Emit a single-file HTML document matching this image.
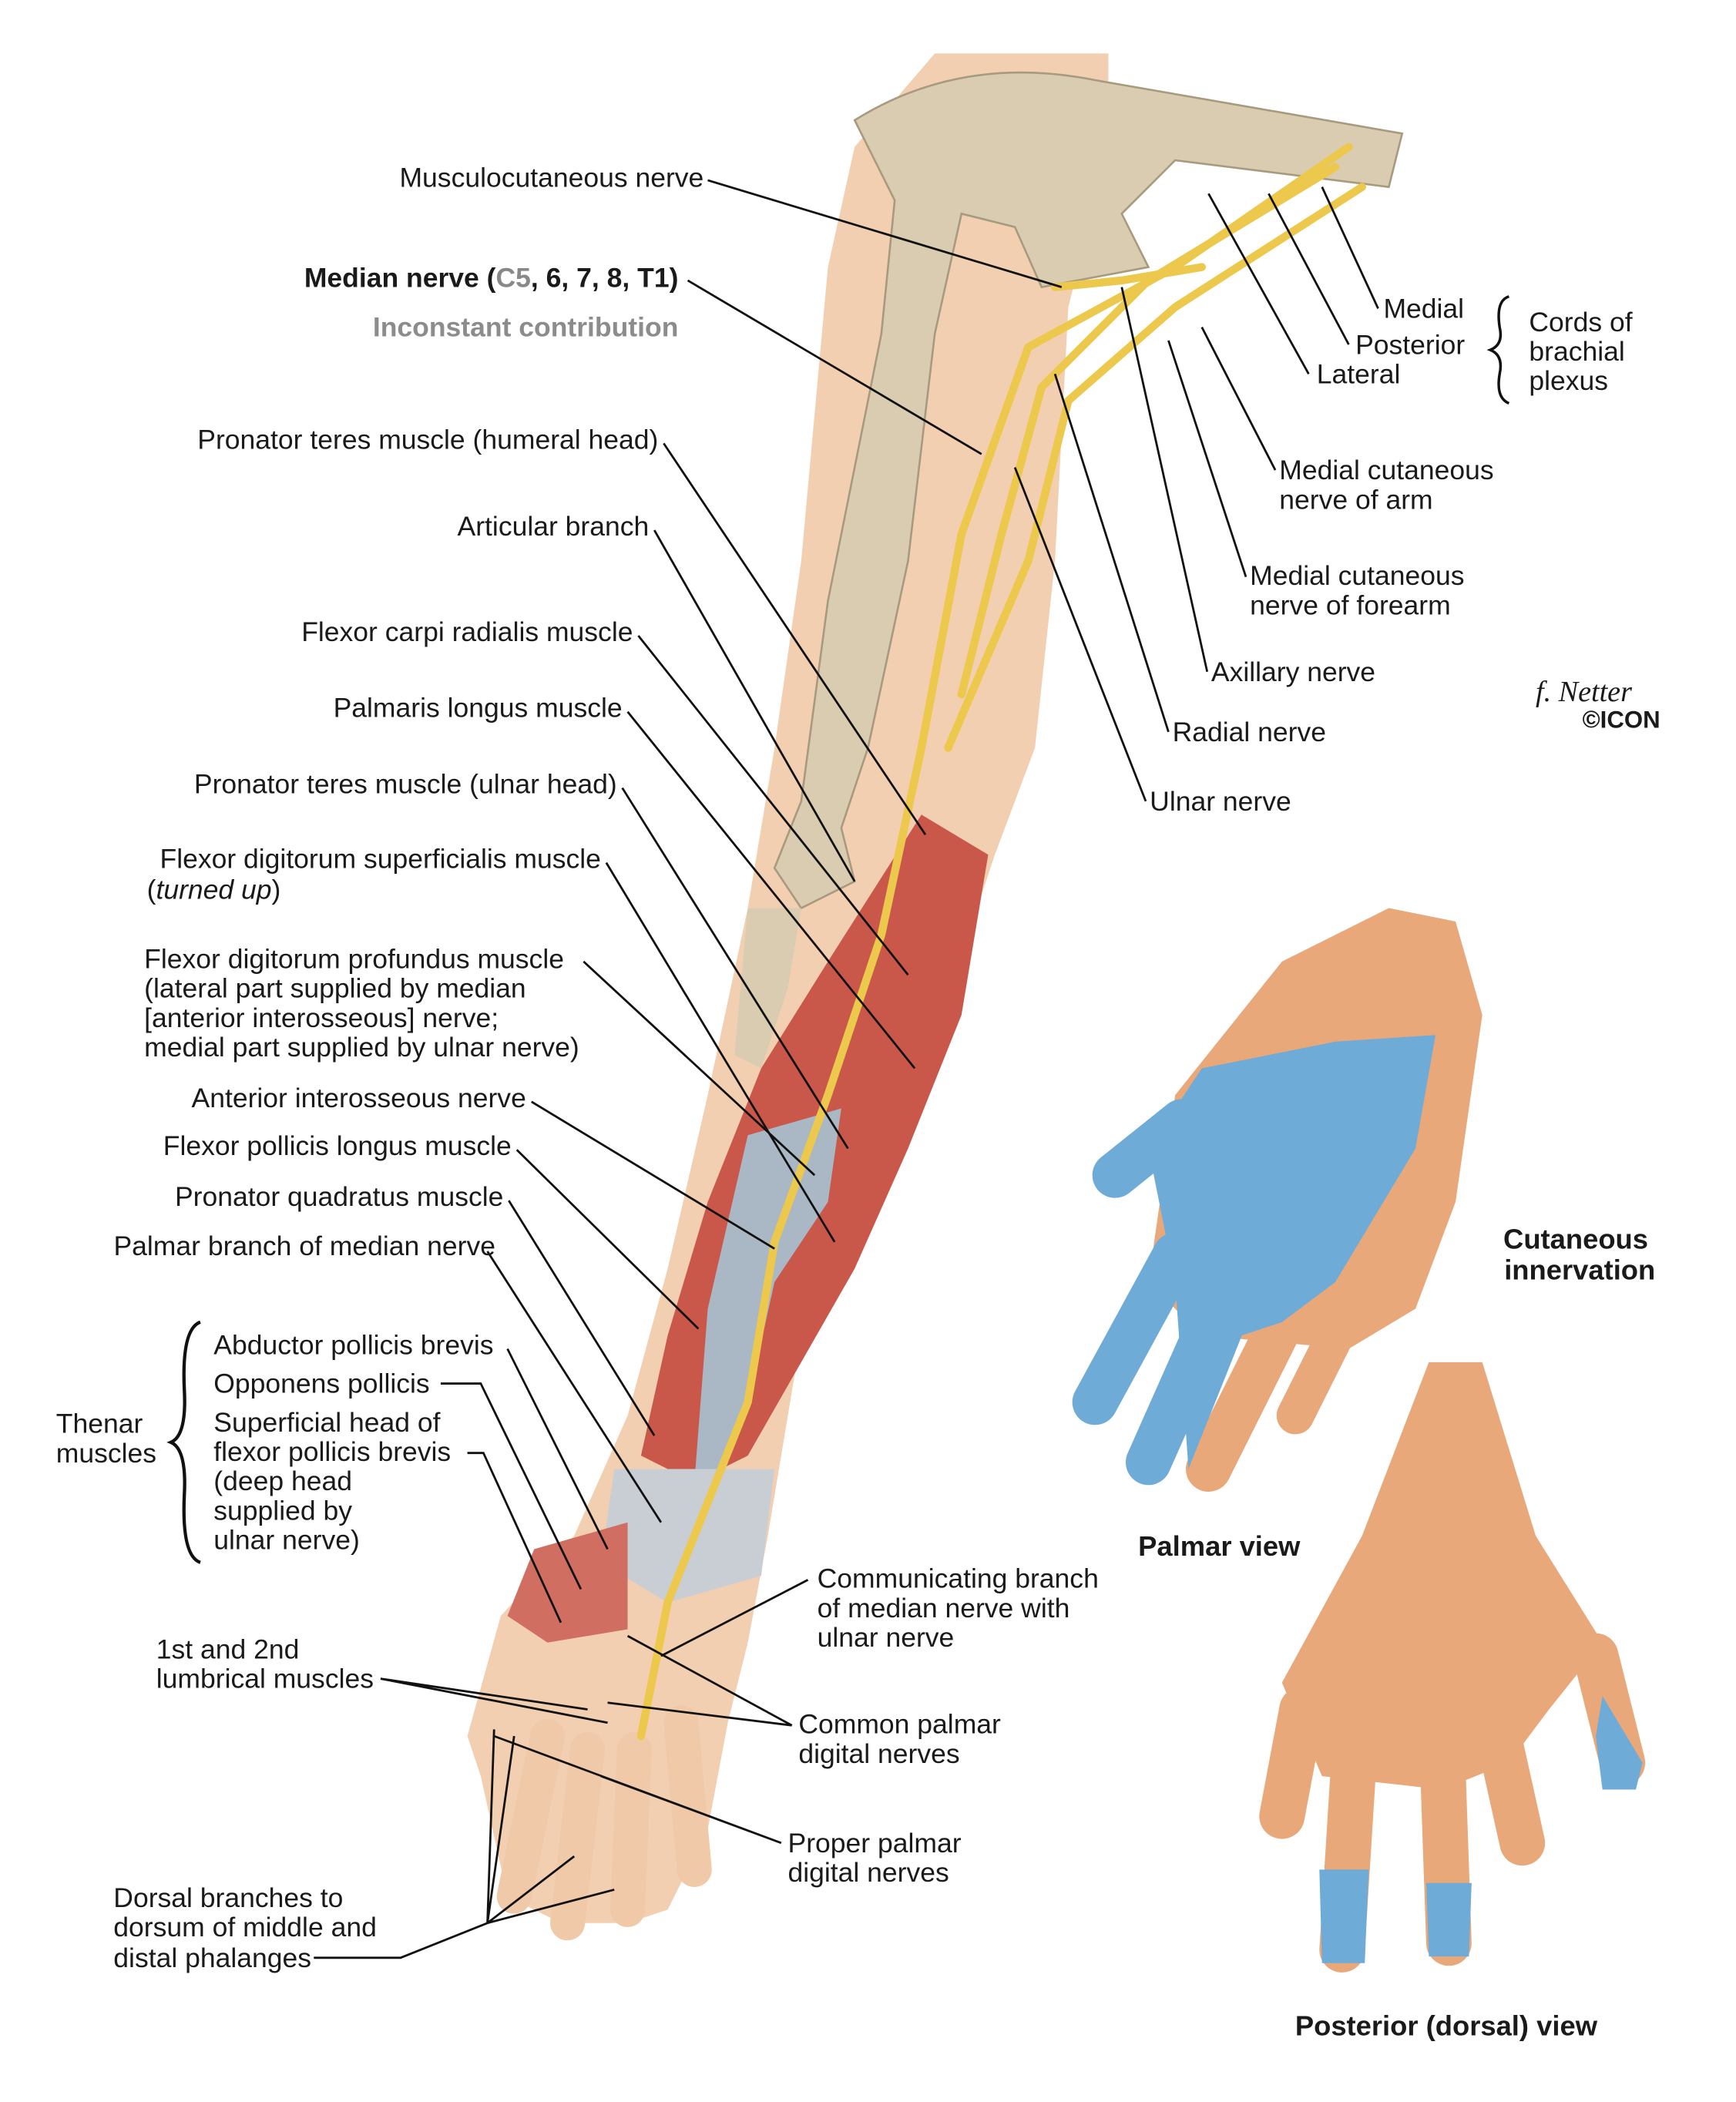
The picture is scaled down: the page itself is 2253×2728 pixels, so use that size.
<!DOCTYPE html>
<html><head><meta charset="utf-8"><style>
html,body{margin:0;padding:0;background:#fff}
svg{display:block}
text{font-family:"Liberation Sans",sans-serif;font-size:20.5px;fill:#1a1a1a}
.b{font-weight:bold}
</style></head><body>
<svg width="2253" height="2728" viewBox="0 0 1300 1574" preserveAspectRatio="none" xmlns="http://www.w3.org/2000/svg">
<!-- arm skin -->
<path d="M700 40 L830 40 L830 110 L800 230 L790 420 L775 560 L745 640 L705 760 L650 880 L600 1000 L575 1150 L560 1230 L545 1290 L530 1370 L500 1430 L470 1440 L420 1440 L380 1420 L360 1330 L350 1300 L375 1210 L430 1150 L470 1060 L500 950 L530 820 L560 680 L580 560 L600 420 L620 200 L640 110 Z" fill="#f3cfb2"/>
<g stroke="#f0c9a9" stroke-width="26" stroke-linecap="round" fill="none">
<path d="M410 1300 L385 1420"/><path d="M440 1310 L425 1440"/><path d="M475 1310 L470 1430"/><path d="M510 1290 L520 1400"/>
</g>
<!-- bones -->
<path d="M640 90 Q720 40 820 60 L1050 100 L1040 140 L880 120 L840 160 L860 200 L780 215 L760 170 L720 160 L700 250 L680 420 L650 560 L630 620 L640 660 L600 680 L580 650 L600 600 L620 450 L660 250 L670 150 Z" fill="#d9ccb1" stroke="#a89a7e" stroke-width="1.5"/>
<path d="M560 680 L600 680 L590 740 L570 800 L550 790 Z" fill="#d9ccb1"/>
<!-- forearm muscles -->
<path d="M690 610 L740 640 L720 760 L680 860 L640 950 L600 1020 L560 1090 L520 1110 L480 1090 L500 1000 L530 900 L570 800 L620 720 Z" fill="#c9584b"/>
<path d="M560 850 L630 830 L620 900 L580 960 L560 1050 L540 1110 L520 1110 L530 980 Z" fill="#a9b8c4"/>
<!-- wrist/hand -->
<path d="M460 1100 L580 1100 L570 1180 L500 1200 L450 1170 Z" fill="#c9ced4"/>
<path d="M400 1160 L470 1140 L470 1220 L410 1230 L380 1210 Z" fill="#d06e62"/>
<!-- nerves -->
<g stroke="#ecc84c" stroke-width="6" fill="none" stroke-linecap="round">
<path d="M1010 110 L880 200 L770 260 L720 400 L690 560 L660 700 L620 820 L580 930 L560 1050 L500 1200 L480 1300"/>
<path d="M1000 125 L860 210 L780 290 L750 400 L720 520"/>
<path d="M1020 140 L880 230 L800 300 L770 420 L710 560"/>
<path d="M790 215 L840 210 L900 200"/>
</g>
<!-- palmar hand -->
<path d="M1040 680 L1090 690 L1110 760 L1090 900 L1060 980 L1010 1010 L900 1000 L860 960 L880 820 L960 720 Z" fill="#e9a879"/>
<g stroke-linecap="round" fill="none" stroke-width="34">
<path d="M885 840 L835 880" stroke="#6fabd7"/>
<path d="M880 940 L820 1050" stroke="#6fabd7"/>
<path d="M920 960 L860 1095" stroke="#6fabd7"/>
<path d="M960 990 L905 1100" stroke="#e9a879"/>
<path d="M1005 990 L970 1060" stroke="#e9a879" stroke-width="28"/>
</g>
<path d="M1075 775 L1060 860 L1000 960 L960 990 L930 1000 L890 1100 L880 960 L860 860 L900 800 L1000 780 Z" fill="#6fabd7"/>
<!-- dorsal hand -->
<path d="M1070 1020 L1110 1020 L1150 1150 L1200 1230 L1160 1280 L1130 1320 L1080 1340 L990 1330 L960 1260 L1020 1150 Z" fill="#e9a879"/>
<g stroke-linecap="round" fill="none" stroke-width="34" stroke="#e9a879">
<path d="M1195 1240 L1215 1320"/>
<path d="M975 1280 L960 1360"/>
<path d="M1015 1300 L1005 1460"/>
<path d="M1080 1310 L1085 1455"/>
<path d="M1120 1290 L1140 1380"/>
</g>
<path d="M1200 1270 L1230 1320 L1225 1340 L1200 1340 L1195 1300 Z" fill="#6fabd7"/>
<path d="M988 1400 L1025 1400 L1022 1470 L990 1470 Z M1068 1410 L1102 1410 L1100 1465 L1070 1465 Z" fill="#6fabd7"/>
<!-- leader lines -->
<g stroke="#111" stroke-width="1.6" fill="none">
<path d="M530 135 L795 215"/>
<path d="M515 210 L735 340"/>
<path d="M497 332 L693 625"/>
<path d="M490 397 L640 660"/>
<path d="M478 476 L680 730"/>
<path d="M470 533 L685 800"/>
<path d="M466 590 L635 860"/>
<path d="M454 646 L625 930"/>
<path d="M437 720 L610 880"/>
<path d="M398 825 L580 935"/>
<path d="M387 861 L523 995"/>
<path d="M381 899 L490 1075"/>
<path d="M365 937 L495 1140"/>
<path d="M380 1010 L455 1160"/>
<path d="M330 1036 L360 1036 L435 1190"/>
<path d="M350 1088 L362 1088 L420 1215"/>
<path d="M285 1257 L440 1280 M285 1257 L455 1290"/>
<path d="M235 1466 L300 1466 L365 1440 L370 1295 M365 1440 L385 1300 M365 1440 L430 1390 M365 1440 L460 1415"/>
<path d="M605 1183 L495 1240"/>
<path d="M593 1292 L470 1225 M593 1292 L455 1275"/>
<path d="M585 1380 L370 1300 M585 1380 L450 1330"/>
<path d="M1032 231 L990 140"/>
<path d="M1010 258 L950 145"/>
<path d="M980 280 L905 145"/>
<path d="M955 352 L900 245"/>
<path d="M933 432 L875 255"/>
<path d="M904 503 L840 215"/>
<path d="M875 548 L790 280"/>
<path d="M858 600 L760 350"/>
<path d="M1130 222 Q1120 225 1123 245 Q1126 258 1116 262 Q1126 266 1123 280 Q1120 298 1130 302" stroke-width="2"/>
<path d="M150 990 Q136 995 138 1040 Q140 1075 128 1080 Q140 1085 138 1120 Q136 1165 150 1170" stroke-width="2.5"/>
</g>
<!-- labels -->
<text x="527" y="140" text-anchor="end">Musculocutaneous nerve</text>
<text x="508" y="215" text-anchor="end"><tspan class="b">Median nerve (</tspan><tspan class="b" fill="#888">C5</tspan><tspan class="b">, 6, 7, 8, </tspan><tspan class="b">T1)</tspan></text>
<text x="508" y="252" text-anchor="end" class="b" style="fill:#8c8c8c">Inconstant contribution</text>
<text x="493" y="336" text-anchor="end">Pronator teres muscle (humeral head)</text>
<text x="486" y="401" text-anchor="end">Articular branch</text>
<text x="474" y="480" text-anchor="end">Flexor carpi radialis muscle</text>
<text x="466" y="537" text-anchor="end">Palmaris longus muscle</text>
<text x="462" y="594" text-anchor="end">Pronator teres muscle (ulnar head)</text>
<text x="450" y="650" text-anchor="end">Flexor digitorum superficialis muscle</text>
<text x="110" y="673"><tspan>(</tspan><tspan font-style="italic">turned up</tspan><tspan>)</tspan></text>
<text x="108" y="725">Flexor digitorum profundus muscle</text>
<text x="108" y="747">(lateral part supplied by median</text>
<text x="108" y="769">[anterior interosseous] nerve;</text>
<text x="108" y="791">medial part supplied by ulnar nerve)</text>
<text x="394" y="829" text-anchor="end">Anterior interosseous nerve</text>
<text x="383" y="865" text-anchor="end">Flexor pollicis longus muscle</text>
<text x="377" y="903" text-anchor="end">Pronator quadratus muscle</text>
<text x="371" y="940" text-anchor="end">Palmar branch of median nerve</text>
<text x="42" y="1073">Thenar</text>
<text x="42" y="1095">muscles</text>
<text x="160" y="1014">Abductor pollicis brevis</text>
<text x="160" y="1043">Opponens pollicis</text>
<text x="160" y="1072">Superficial head of</text>
<text x="160" y="1094">flexor pollicis brevis</text>
<text x="160" y="1116">(deep head</text>
<text x="160" y="1138">supplied by</text>
<text x="160" y="1160">ulnar nerve)</text>
<text x="117" y="1242">1st and 2nd</text>
<text x="117" y="1264">lumbrical muscles</text>
<text x="85" y="1428">Dorsal branches to</text>
<text x="85" y="1450">dorsum of middle and</text>
<text x="85" y="1473">distal phalanges</text>
<text x="612" y="1189">Communicating branch</text>
<text x="612" y="1211">of median nerve with</text>
<text x="612" y="1233">ulnar nerve</text>
<text x="598" y="1298">Common palmar</text>
<text x="598" y="1320">digital nerves</text>
<text x="590" y="1387">Proper palmar</text>
<text x="590" y="1409">digital nerves</text>
<text x="1036" y="238">Medial</text>
<text x="1015" y="265">Posterior</text>
<text x="986" y="287">Lateral</text>
<text x="1145" y="248">Cords of</text>
<text x="1145" y="270">brachial</text>
<text x="1145" y="292">plexus</text>
<text x="958" y="359">Medial cutaneous</text>
<text x="958" y="381">nerve of arm</text>
<text x="936" y="438">Medial cutaneous</text>
<text x="936" y="460">nerve of forearm</text>
<text x="907" y="510">Axillary nerve</text>
<text x="878" y="555">Radial nerve</text>
<text x="861" y="607">Ulnar nerve</text>
<text x="1180" y="935" text-anchor="middle" class="b" style="font-size:21px">Cutaneous</text>
<text x="1183" y="958" text-anchor="middle" class="b" style="font-size:21px">innervation</text>
<text x="913" y="1165" text-anchor="middle" class="b" style="font-size:21px">Palmar view</text>
<text x="1083" y="1524" text-anchor="middle" class="b" style="font-size:21px">Posterior (dorsal) view</text>
<text x="1150" y="525" style="font-family:'Liberation Serif',serif;font-style:italic;font-size:22px">f. Netter</text>
<text x="1185" y="545" style="font-size:18px;font-weight:bold">©ICON</text>
</svg>
</body></html>
